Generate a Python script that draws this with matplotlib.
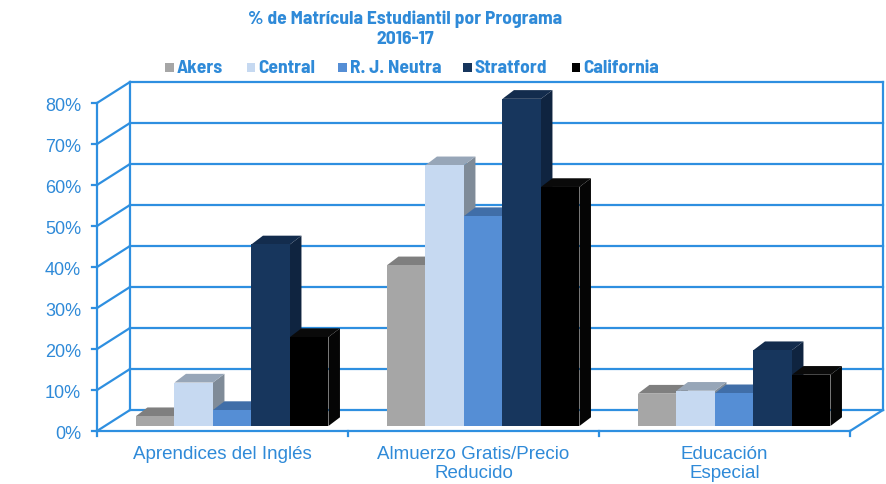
import matplotlib
matplotlib.use("Agg")
import matplotlib.pyplot as plt
from matplotlib.patches import Polygon, Rectangle
from matplotlib.transforms import Affine2D
import numpy as np

programs = ["Aprendices del Inglés", "Almuerzo Gratis/Precio\nReducido", "Educación\nEspecial"]
schools = ["Akers", "Central", "R. J. Neutra", "Stratford", "California"]
akers = [2.4, 39.2, 7.9]
central = [10.6, 63.6, 8.6]
neutra = [3.9, 51.2, 8.0]
stratford = [44.3, 79.8, 18.5]
california = [21.7, 58.3, 12.5]
yticks = [0, 10, 20, 30, 40, 50, 60, 70, 80]

front_colors = ["#a6a6a6", "#c6d9f1", "#558ed5", "#17365d", "#000000"]
top_colors = ["#7f7f7f", "#97a6b8", "#406ea8", "#132c4d", "#0a0a0a"]
side_colors = ["#6f6f6f", "#7f8b98", "#3a6399", "#0f2440", "#050505"]

line_c = "#2e8fe0"
text_c = "#2f8ad8"
lw = 1.6

W, H = 886, 485
fig = plt.figure(figsize=(W / 100, H / 100), dpi=100)
ax = fig.add_axes([97 / W, 53 / H, 753 / W, 328 / H])
ax.set_xlim(0, 3)
ax.set_ylim(0, 80)
ax.axis("off")


def px_to_data(dx, dy):
    # turn a pixel shift into a data shift
    p0 = ax.transData.transform((0, 0))
    x1, y1 = ax.transData.inverted().transform(p0 + np.array([dx, dy]))
    return x1, y1


wall_dx, wall_dy = px_to_data(33, 21)
bar_ox, bar_oy = px_to_data(9.7, 5)
bar_dx, bar_dy = px_to_data(11.5, 8.7)
tick_x, _ = px_to_data(5, 0)
_, tick_y = px_to_data(0, 5)
lab_x, _ = px_to_data(16, 0)

regular = dict(color=text_c, family=["Liberation Sans"])

# walls
for v in yticks:
    ax.plot([wall_dx, 3 + wall_dx], [v + wall_dy] * 2, color=line_c, lw=lw, zorder=1, clip_on=False)
    ax.plot([0, wall_dx], [v, v + wall_dy], color=line_c, lw=lw, zorder=1, clip_on=False)
    ax.plot([-tick_x, 0], [v, v], color=line_c, lw=lw, zorder=1, clip_on=False)
    ax.text(-lab_x, v - 0.5, f"{v}%", ha="right", va="center", fontsize=13, **regular)
ax.plot([0, 0], [0, 80], color=line_c, lw=lw, zorder=1, clip_on=False)
ax.plot([wall_dx, wall_dx], [wall_dy, 80 + wall_dy], color=line_c, lw=lw, zorder=1, clip_on=False)
ax.plot([3 + wall_dx] * 2, [wall_dy, 80 + wall_dy], color=line_c, lw=lw, zorder=1, clip_on=False)
ax.plot([0, 3], [0, 0], color=line_c, lw=lw, zorder=1, clip_on=False)
ax.plot([3, 3 + wall_dx], [0, wall_dy], color=line_c, lw=lw, zorder=1, clip_on=False)
for k in range(len(programs) + 1):
    ax.plot([k, k], [0, -tick_y], color=line_c, lw=lw, zorder=1, clip_on=False)

# bars
values = [akers, central, neutra, stratford, california]
n = len(schools)
bw = 0.1534
x = np.arange(len(programs)) + 0.5
for j, vals in enumerate(values):
    left = x - n * bw / 2 + j * bw + bar_ox
    z = 3 + 3 * j
    ax.bar(left, vals, width=bw, bottom=bar_oy, align="edge", color=front_colors[j],
           lw=0, zorder=z + 2, clip_on=False)
    for l, v in zip(left, vals):
        b = bar_oy
        side = [(l + bw, b), (l + bw + bar_dx, b + bar_dy), (l + bw + bar_dx, b + v + bar_dy), (l + bw, b + v)]
        top = [(l, b + v), (l + bw, b + v), (l + bw + bar_dx, b + v + bar_dy), (l + bar_dx, b + v + bar_dy)]
        ax.add_patch(Polygon(side, closed=True, fc=side_colors[j], lw=0, zorder=z, clip_on=False))
        ax.add_patch(Polygon(top, closed=True, fc=top_colors[j], lw=0, zorder=z + 1, clip_on=False))

for i, p in enumerate(programs):
    ax.text(x[i], -3.3, p, ha="center", va="top", fontsize=13.5, linespacing=1.2, **regular)

# title and legend, placed in pixels
px = Affine2D().scale(1, -1).translate(0, H)
bold = dict(color=text_c, fontsize=14, fontweight="bold",
            family=["Barlow Semi Condensed", "Liberation Sans"])
fig.text(405, 19, "% de Matrícula Estudiantil por Programa", ha="center", va="center",
         transform=px, **bold)
fig.text(405, 40, "2016-17", ha="center", va="center", transform=px, **bold)

marker_x = [165, 246.7, 338, 463, 571.7]
for j, name in enumerate(schools):
    fig.add_artist(Rectangle((marker_x[j], 64.3), 8.5, 8.5, fc=front_colors[j], lw=0, transform=px))
    fig.text(marker_x[j] + 11.5, 68.5, name, ha="left", va="center", transform=px, **bold)

fig.savefig("out.png", dpi=100)
